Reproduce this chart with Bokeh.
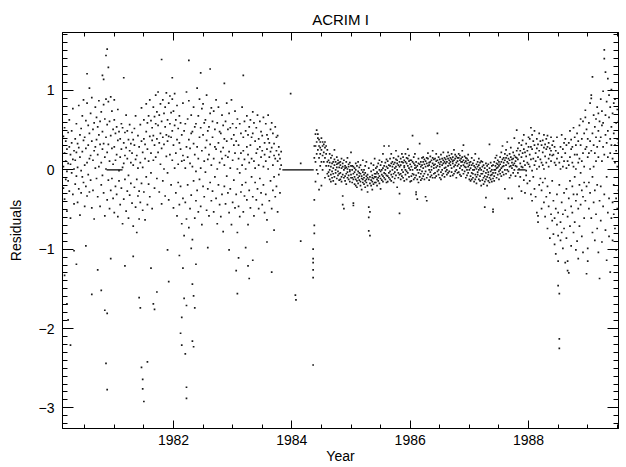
from bokeh.plotting import figure
from bokeh.models import LinearAxis, SingleIntervalTicker, Range1d, ColumnDataSource, CustomJSTickFormatter
from bokeh.embed import file_html
from bokeh.resources import INLINE

# ---------------- data ----------------
early_years = [
    1980.12, 1980.14, 1980.16, 1980.18, 1980.20, 1980.22, 1980.24, 1980.26, 1980.28, 1980.30,
    1980.32, 1980.34, 1980.36, 1980.38, 1980.40, 1980.42, 1980.44, 1980.46, 1980.48, 1980.50,
    1980.52, 1980.54, 1980.56, 1980.58, 1980.60, 1980.62, 1980.64, 1980.66, 1980.68, 1980.70,
    1980.72, 1980.74, 1980.76, 1980.78, 1980.80, 1980.82, 1980.84, 1980.86, 1980.88, 1980.90,
    1980.92, 1980.94, 1980.96, 1980.98, 1981.00, 1981.02, 1981.04, 1981.06, 1981.08, 1981.10,
    1981.12, 1981.14, 1981.16, 1981.18, 1981.20, 1981.22, 1981.24, 1981.26, 1981.28, 1981.30,
    1981.32, 1981.34, 1981.36, 1981.38, 1981.40, 1981.42, 1981.44, 1981.46, 1981.48, 1981.50,
    1981.52, 1981.54, 1981.56, 1981.58, 1981.60, 1981.62, 1981.64, 1981.66, 1981.68, 1981.70,
    1981.72, 1981.74, 1981.76, 1981.78, 1981.80, 1981.82, 1981.84, 1981.86, 1981.88, 1981.90,
    1981.92, 1981.94, 1981.96, 1981.98, 1982.00, 1982.02, 1982.04, 1982.06, 1982.08, 1982.10,
    1982.12, 1982.14, 1982.16, 1982.18, 1982.20, 1982.22, 1982.24, 1982.26, 1982.28, 1982.30,
    1982.32, 1982.34, 1982.36, 1982.38, 1982.40, 1982.42, 1982.44, 1982.46, 1982.48, 1982.50,
    1982.52, 1982.54, 1982.56, 1982.58, 1982.60, 1982.62, 1982.64, 1982.66, 1982.68, 1982.70,
    1982.72, 1982.74, 1982.76, 1982.78, 1982.80, 1982.82, 1982.84, 1982.86, 1982.88, 1982.90,
    1982.92, 1982.94, 1982.96, 1982.98, 1983.00, 1983.02, 1983.04, 1983.06, 1983.08, 1983.10,
    1983.12, 1983.14, 1983.16, 1983.18, 1983.20, 1983.22, 1983.24, 1983.26, 1983.28, 1983.30,
    1983.32, 1983.34, 1983.36, 1983.38, 1983.40, 1983.42, 1983.44, 1983.46, 1983.48, 1983.50,
    1983.52, 1983.54, 1983.56, 1983.58, 1983.60, 1983.62, 1983.64, 1983.66, 1983.68, 1983.70,
    1983.72, 1983.74, 1983.76, 1983.78, 1983.80, 1983.82,
]
early_vals = [
    [0.17, -0.06, 0.31], [0.04, 0.42, -0.23], [0.21, -0.37, 0.53, -1.33], [0.11, -0.12, 0.36], [-0.02, 0.26, -0.52, -1.69], [0.47, -0.14, 0.08, -1.89], [0.29, -0.27, 0.63], [0.07, 0.19, -0.61, -2.21], [0.34, -0.04, 0.49], [-0.31, 0.13, 0.77],
    [0.24, -0.43, 0.01, -1.02], [0.39, 0.12, -0.18], [0.58, -0.08, 0.22, -1.19], [0.03, 0.33, -0.41], [0.28, -0.24, 0.81], [0.16, -0.57, 0.44], [0.52, -0.01, -0.29], [0.23, 0.68, -0.09], [-0.16, 0.37, 0.88], [0.41, 0.06, -0.46],
    [0.62, -0.21, 0.27, -0.96], [0.84, 0.09, -0.33, 1.21], [0.31, 0.56, -0.06], [0.46, -0.28, 0.14, 1.03], [0.71, 0.18, -0.13], [0.36, 0.91, -0.48, -1.57], [0.12, 0.51, -0.26], [0.59, 0.24, -0.62], [0.29, 0.79, 0.02], [-0.11, 0.38, 0.66],
    [0.19, 0.54, -0.34, -1.26], [0.44, 0.04, 0.87], [0.32, -0.46, 0.61], [0.09, 0.73, -0.19, -1.52], [0.48, -0.07, 0.26, 1.19], [0.33, -0.29, 0.82, 1.14], [0.64, 0.16, -0.58, -1.77], [0.41, 0.01, 0.89, 1.44, -2.44], [0.22, -0.38, 0.57, 1.52, -2.77, -1.81], [0.86, -0.13, 0.32, 1.29],
    [0.11, 0.61, -0.49], [0.43, -0.26, 0.92, -1.12], [0.27, 0.74, -0.11], [0.51, 0.07, -0.36], [0.29, 0.63, -0.54, 0.88], [0.12, 0.46, -0.21], [0.54, -0.31, 0.19], [0.37, -0.59, 0.76], [-0.01, 0.48, -0.14], [0.39, 0.16, -0.44],
    [0.26, -0.23, 0.58], [0.53, 0.03, -0.68], [0.08, 0.34, -0.37, 1.16], [-0.12, 0.47, 0.18, -1.21], [0.28, -0.52, 0.69], [0.14, 0.49, -0.27], [0.38, -0.07, -0.61], [0.24, 0.57, -0.32], [-0.17, 0.33, 0.09], [0.47, -0.42, 0.21],
    [0.06, -0.71, 0.38, -1.09], [0.31, -0.22, 0.52], [-0.47, 0.13, 0.68], [0.18, -0.12, -0.79], [0.43, 0.02, -0.33], [-0.27, 0.29, -0.62, -1.61], [0.09, 0.57, -0.41, -1.74], [0.36, -0.17, 0.78, -2.49], [-0.51, 0.22, 0.03, -2.64, -2.76], [0.39, -0.28, 0.63, -2.92],
    [0.14, -0.63, 0.32], [0.48, -0.09, 0.83], [0.26, -0.44, 0.59, -2.42], [0.68, 0.11, -0.18], [0.42, 0.88, -0.34], [0.21, 0.62, -0.04, -1.24], [0.53, 0.37, -0.49], [0.79, 0.12, 0.43, -1.69], [0.31, -0.23, 0.67, -1.76], [0.58, 0.94, 0.16],
    [0.39, -0.11, 0.73, -1.54], [0.22, 0.56, 0.98], [0.69, 0.34, -0.28], [0.46, 0.83, 0.07], [0.61, 0.27, -0.43, 1.39], [0.88, 0.41, -0.14], [0.32, 0.71, 0.01], [0.54, -0.33, 0.79], [0.17, 0.44, 0.97], [0.63, -0.04, 0.36, -1.01],
    [0.42, 0.84, -0.38, -1.41], [0.19, 0.58, 0.93], [0.72, -0.19, 0.41], [0.49, 0.12, 0.89, 1.16], [0.31, 0.74, -0.48], [0.56, 0.02, 0.96], [0.21, 0.63, -0.29], [0.38, -0.58, 0.81], [0.07, 0.52, -0.16], [0.34, -0.44, 0.68, -1.08],
    [-0.21, 0.26, 0.59, -2.06], [0.44, -0.68, 0.11, -1.86, -2.21], [-0.36, 0.18, 0.84, -1.24], [0.12, -0.83, 0.49, -1.62], [0.58, -0.41, 0.02, -2.32], [-0.62, 0.29, 0.98, -1.71, -2.74, -2.88], [0.16, -0.19, 0.64], [-0.73, 0.38, 0.87, 1.38], [0.27, -0.49, 0.08], [-0.32, 0.69, 0.46, -0.99],
    [0.48, -0.88, 0.04, -1.44, -2.16], [-0.14, 0.33, 0.79, -1.59, -2.23], [0.19, -0.61, 0.54, -1.74], [-0.39, 0.58, -0.02, -1.19], [0.29, -0.26, 1.03], [0.68, -0.53, 0.14], [0.41, 0.89, -0.12], [0.02, 0.53, -0.46, 1.22], [0.24, 0.77, -0.69], [0.44, -0.21, 0.83],
    [0.11, 0.59, -0.34], [0.63, -0.03, 0.28], [0.37, 0.94, -0.51], [-0.24, 0.49, 0.13, -0.98], [0.54, 0.19, -0.58], [0.32, 0.71, -0.16, 1.27], [0.78, 0.06, -0.39], [0.41, -0.27, 0.61], [0.14, 0.74, -0.53], [0.51, -0.09, 0.29],
    [0.26, 0.88, -0.36], [0.59, 0.01, -0.68], [0.34, -0.19, 0.79], [0.09, 0.48, -0.44], [0.46, -0.59, 0.23], [0.69, 0.14, -0.31], [0.28, 0.56, -0.78], [0.06, 0.39, -0.21, 1.09], [0.61, -0.43, 0.18], [0.36, 0.84, -0.08],
    [-0.29, 0.51, 0.16], [0.23, -0.54, 0.71, -1.01], [0.53, 0.02, -0.24], [0.39, -0.69, 0.88], [0.12, 0.58, -0.41], [0.44, -0.13, 0.31], [-0.48, 0.21, 0.74], [0.36, -0.31, 0.53, -1.27], [0.01, 0.64, -0.79, -1.56], [0.31, -0.46, 0.14, -1.11],
    [0.58, -0.04, -0.59], [0.21, 0.46, -0.28], [-0.19, 0.79, 0.06], [0.41, -0.53, 0.24, 1.19], [0.13, 0.61, -0.33], [0.49, -0.16, 0.01, -0.98], [-0.38, 0.29, 0.68], [0.19, -0.69, 0.44, -1.21], [0.54, 0.09, -0.26, -1.37], [0.31, -0.48, 0.63],
    [-0.09, 0.41, 0.14], [0.46, -0.34, 0.73, -1.14], [0.11, 0.59, -0.58], [0.36, -0.16, 0.02], [0.53, -0.38, 0.21], [0.26, 0.69, -0.24], [-0.49, 0.39, 0.06], [0.29, 0.61, -0.11], [0.16, -0.29, 0.48], [0.43, 0.24, -0.44],
    [0.04, 0.66, -0.19], [0.34, -0.54, 0.19], [0.58, 0.11, -0.31], [0.26, 0.44, -0.63, -0.91], [0.39, 0.01, 0.69], [0.16, -0.39, 0.34], [0.51, 0.23, -0.14], [0.28, -0.49, 0.59, -1.29], [0.06, 0.46, -0.26], [0.33, -0.09, 0.18, -0.76],
    [0.54, 0.14, -0.34], [0.24, -0.21, 0.41], [0.11, 0.43, -0.53], [0.29, -0.06, 0.19], [0.14, 0.01, -0.29], [0.06, 0.23],
]

gap_years = [1983.98, 1984.06, 1984.07, 1984.15, 1984.15]
gap_vals = [0.96, -1.58, -1.64, 0.08, -0.9]

cluster_years = [1984.36, 1984.38, 1984.40, 1984.42, 1984.44, 1984.46, 1984.48, 1984.50, 1984.52, 1984.54, 1984.56, 1984.58, 1984.60]
cluster_vals = [
    [-1.0, -1.12, -1.17, -1.26, -1.36, -2.46], [0.15, -0.38, -0.7, -0.8, 0.3], [0.45, 0.3, 0.1, -0.15], [0.5, 0.35, 0.2, 0.0],
    [0.4, 0.25, 0.45, -0.05], [0.3, 0.15, 0.38, -0.25], [0.35, 0.2, 0.28, 0.05], [0.25, 0.4, 0.1, -0.2], [0.3, 0.18, 0.35, 0.0],
    [0.22, 0.32, 0.1], [0.28, 0.15, 0.35, -0.1], [0.2, 0.05, 0.3], [0.1, 0.25, -0.05],
]

band_years = [
    1984.62, 1984.64, 1984.66, 1984.68, 1984.70, 1984.72, 1984.74, 1984.76, 1984.78, 1984.80,
    1984.82, 1984.84, 1984.86, 1984.88, 1984.90, 1984.92, 1984.94, 1984.96, 1984.98, 1985.00,
    1985.02, 1985.04, 1985.06, 1985.08, 1985.10, 1985.12, 1985.14, 1985.16, 1985.18, 1985.20,
    1985.22, 1985.24, 1985.26, 1985.28, 1985.30, 1985.32, 1985.34, 1985.36, 1985.38, 1985.40,
    1985.42, 1985.44, 1985.46, 1985.48, 1985.50, 1985.52, 1985.54, 1985.56, 1985.58, 1985.60,
    1985.62, 1985.64, 1985.66, 1985.68, 1985.70, 1985.72, 1985.74, 1985.76, 1985.78, 1985.80,
    1985.82, 1985.84, 1985.86, 1985.88, 1985.90, 1985.92, 1985.94, 1985.96, 1985.98, 1986.00,
    1986.02, 1986.04, 1986.06, 1986.08, 1986.10, 1986.12, 1986.14, 1986.16, 1986.18, 1986.20,
    1986.22, 1986.24, 1986.26, 1986.28, 1986.30, 1986.32, 1986.34, 1986.36, 1986.38, 1986.40,
    1986.42, 1986.44, 1986.46, 1986.48, 1986.50, 1986.52, 1986.54, 1986.56, 1986.58, 1986.60,
    1986.62, 1986.64, 1986.66, 1986.68, 1986.70, 1986.72, 1986.74, 1986.76, 1986.78, 1986.80,
    1986.82, 1986.84, 1986.86, 1986.88, 1986.90, 1986.92, 1986.94, 1986.96, 1986.98, 1987.00,
    1987.02, 1987.04, 1987.06, 1987.08, 1987.10, 1987.12, 1987.14, 1987.16, 1987.18, 1987.20,
    1987.22, 1987.24, 1987.26, 1987.28, 1987.30, 1987.32, 1987.34, 1987.36, 1987.38, 1987.40,
    1987.42, 1987.44, 1987.46, 1987.48, 1987.50, 1987.52, 1987.54, 1987.56, 1987.58, 1987.60,
    1987.62, 1987.64, 1987.66, 1987.68, 1987.70, 1987.72, 1987.74, 1987.76, 1987.78, 1987.80,
]
band_vals = [
    [0.05, -0.03, 0.12, -0.08], [0.0, 0.09, -0.12, 0.2], [0.04, -0.06, 0.15, -0.15], [0.08, -0.02, -0.1, 0.18], [-0.05, 0.1, 0.02, -0.14], [0.06, -0.09, 0.13, 0.25], [0.0, -0.04, 0.1, -0.18], [0.07, -0.11, 0.03, 0.16], [-0.02, 0.08, -0.07, 0.12], [0.03, -0.13, 0.09, -0.05],
    [-0.04, 0.06, -0.12, 0.1], [0.02, -0.09, 0.14, -0.15], [-0.06, 0.04, -0.33, -0.44, 0.08], [0.0, -0.1, -0.49, 0.12], [-0.08, 0.05, -0.14, 0.02], [0.03, -0.05, 0.1, -0.18], [-0.1, 0.01, -0.03, 0.15], [0.04, -0.12, 0.07, -0.07], [-0.02, -0.15, 0.09, 0.0], [-0.06, 0.05, -0.1, 0.22],
    [-0.1, 0.0, -0.16, 0.05], [-0.45, -0.42, -0.05, -0.12, 0.04], [-0.09, -0.18, 0.02, -0.03], [-0.12, 0.0, -0.2, 0.08], [-0.06, -0.14, 0.05, -0.22], [-0.1, -0.02, -0.17, 0.1], [-0.04, -0.13, -0.08, 0.03], [-0.15, -0.05, 0.06, -0.2], [-0.08, -0.11, 0.0, -0.25], [-0.12, -0.03, 0.12, -0.16],
    [-0.1, -0.18, 0.0, -0.06], [-0.14, -0.04, -0.22, 0.05], [-0.08, -0.16, -0.12, 0.1], [-0.2, -0.06, -0.1, -0.28], [-0.47, -0.6, -0.77, -0.12, 0.02], [-0.53, -0.83, -0.09, -0.17], [-0.13, -0.02, -0.2, 0.08], [-0.07, -0.15, -0.1, -0.25], [-0.11, 0.0, -0.18, 0.06], [-0.16, -0.05, -0.09, 0.14],
    [-0.09, -0.16, 0.02, -0.05], [-0.12, 0.04, -0.2, -0.03], [-0.05, -0.14, 0.08, -0.1], [-0.08, 0.0, -0.17, 0.12], [-0.02, -0.11, 0.06, -0.24], [-0.06, 0.1, -0.13, 0.0], [0.02, -0.08, 0.2, -0.15], [-0.04, 0.3, 0.05, -0.1], [0.0, -0.12, 0.09, -0.05], [-0.07, 0.04, -0.16, 0.13],
    [0.02, -0.08, 0.11, -0.15], [0.3, -0.04, 0.06, -0.1], [0.05, -0.12, 0.14, -0.02], [-0.06, 0.08, -0.14, 0.2], [0.0, 0.1, -0.09, 0.04], [0.07, -0.05, 0.15, -0.16], [-0.03, 0.09, -0.11, 0.02], [0.04, -0.07, 0.13, 0.24], [0.08, -0.22, 0.0, 0.12], [-0.04, 0.06, -0.1, 0.17],
    [-0.55, -0.3, 0.04, 0.1, -0.06], [0.06, -0.05, 0.14, -0.12], [0.0, 0.1, -0.08, 0.2], [0.09, -0.03, 0.16, -0.1], [0.03, 0.12, -0.14, 0.05], [0.1, -0.06, 0.2, 0.0], [-0.02, 0.08, -0.12, 0.15], [0.05, 0.14, -0.04, 0.26], [0.11, -0.09, 0.02, 0.18], [0.0, 0.07, -0.15, 0.12],
    [0.04, -0.08, 0.12, -0.14], [0.43, 0.0, -0.05, 0.1], [-0.06, 0.08, -0.12, 0.16], [0.02, -0.1, 0.06, 0.2], [-0.28, -0.31, 0.03, -0.07, 0.1], [-0.37, 0.05, -0.12, 0.0], [0.08, -0.04, 0.14, -0.16], [0.33, 0.0, -0.09, 0.07], [-0.05, 0.1, -0.13, 0.04], [0.06, -0.02, 0.15, -0.11],
    [0.02, 0.1, -0.08, 0.16], [0.07, -0.05, 0.13, -0.12], [-0.34, 0.04, 0.11, -0.02], [-0.39, 0.08, -0.1, 0.15], [0.05, 0.14, -0.06, 0.21], [0.0, 0.09, -0.13, 0.06], [0.1, -0.03, 0.17, -0.09], [0.04, 0.12, -0.07, 0.0], [0.08, -0.1, 0.15, 0.24], [0.02, 0.06, -0.05, 0.13],
    [0.07, -0.04, 0.14, -0.1], [0.03, 0.11, -0.08, 0.2], [0.46, 0.05, -0.02, 0.12], [0.09, -0.06, 0.16, 0.0], [0.04, 0.13, -0.1, 0.07], [0.1, -0.03, 0.19, -0.12], [0.06, 0.0, 0.14, -0.07], [0.12, -0.05, 0.08, 0.22], [0.02, 0.1, -0.09, 0.15], [0.08, -0.02, 0.13, 0.03],
    [0.1, 0.0, 0.17, -0.06], [0.05, 0.14, -0.04, 0.22], [0.12, -0.02, 0.08, 0.18], [0.06, 0.15, -0.08, 0.1], [0.13, 0.02, 0.2, -0.03], [0.08, 0.16, -0.07, 0.11], [0.04, 0.12, 0.25, -0.05], [0.14, 0.06, -0.02, 0.19], [0.09, 0.17, 0.0, -0.1], [0.11, 0.05, 0.15, -0.04],
    [0.07, 0.15, -0.03, 0.2], [0.12, 0.02, 0.18, -0.06], [0.05, 0.14, -0.08, 0.1], [0.1, 0.0, 0.16, 0.24], [0.31, 0.06, -0.05, 0.12], [0.09, 0.17, -0.02, 0.04], [0.03, 0.11, -0.1, 0.15], [0.08, 0.0, 0.14, -0.07], [0.04, 0.12, -0.04, 0.19], [0.0, 0.09, -0.12, 0.06],
    [0.02, -0.08, 0.1, -0.14], [-0.04, 0.06, -0.12, 0.15], [0.0, -0.1, 0.08, -0.05], [0.05, -0.15, 0.12, 0.0], [-0.06, 0.03, -0.12, 0.2], [0.01, -0.09, 0.07, -0.17], [-0.03, 0.1, -0.06, 0.04], [0.06, -0.12, 0.0, 0.14], [-0.08, 0.02, -0.14, 0.09], [0.0, -0.05, 0.11, -0.2],
    [-0.05, 0.04, -0.13, 0.1], [-0.1, -0.02, 0.06, -0.18], [-0.47, -0.08, 0.02, -0.15], [-0.35, -0.04, 0.08, -0.12], [-0.09, 0.0, -0.2, 0.05], [-0.03, -0.14, 0.07, -0.06], [0.32, -0.1, 0.02, -0.16], [-0.02, -0.12, 0.09, -0.07], [-0.06, 0.05, -0.15, 0.0], [-0.53, -0.5, -0.04, 0.06, -0.11],
    [0.0, -0.08, 0.1, -0.14], [0.05, -0.04, 0.15, 0.0], [0.08, -0.1, 0.02, 0.18], [0.03, 0.12, -0.06, 0.07], [-0.02, 0.1, 0.05, -0.12], [0.07, 0.16, -0.05, 0.0], [0.1, 0.02, 0.22, -0.08], [0.04, 0.13, -0.03, 0.3], [0.09, -0.06, 0.15, 0.05], [0.12, 0.0, -0.24, 0.2],
    [0.06, 0.15, -0.05, 0.25], [0.1, 0.0, 0.18, 0.35], [-0.36, 0.08, -0.02, 0.14], [0.12, 0.04, 0.2, -0.1], [0.05, 0.16, -0.07, 0.28], [0.09, -0.36, 0.02, 0.13], [0.14, 0.06, 0.22, -0.04], [0.08, 0.18, 0.0, 0.4], [0.11, -0.08, 0.16, 0.05], [0.15, 0.04, 0.24, 0.5],
]

late_years = [
    1987.82, 1987.84, 1987.86, 1987.88, 1987.90, 1987.92, 1987.94, 1987.96, 1987.98, 1988.00,
    1988.02, 1988.04, 1988.06, 1988.08, 1988.10, 1988.12, 1988.14, 1988.16, 1988.18, 1988.20,
    1988.22, 1988.24, 1988.26, 1988.28, 1988.30, 1988.32, 1988.34, 1988.36, 1988.38, 1988.40,
    1988.42, 1988.44, 1988.46, 1988.48, 1988.50, 1988.52, 1988.54, 1988.56, 1988.58, 1988.60,
    1988.62, 1988.64, 1988.66, 1988.68, 1988.70, 1988.72, 1988.74, 1988.76, 1988.78, 1988.80,
    1988.82, 1988.84, 1988.86, 1988.88, 1988.90, 1988.92, 1988.94, 1988.96, 1988.98, 1989.00,
    1989.02, 1989.04, 1989.06, 1989.08, 1989.10, 1989.12, 1989.14, 1989.16, 1989.18, 1989.20,
    1989.22, 1989.24, 1989.26, 1989.28, 1989.30, 1989.32, 1989.34, 1989.36, 1989.38, 1989.40,
    1989.42, 1989.44, 1989.46, 1989.48, 1989.50, 1989.52,
]
late_vals = [
    [0.13, -0.04, 0.27], [0.01, 0.19, 0.34, -0.21], [0.08, 0.24, -0.09], [0.16, -0.27, 0.04, 0.31], [0.21, 0.03, 0.37], [-0.13, 0.11, 0.26, 0.44], [0.06, 0.22, -0.29], [0.17, -0.01, 0.33, -0.07], [0.24, 0.09, -0.17], [0.07, 0.29, 0.41],
    [0.19, -0.14, 0.39, 0.04], [0.53, 0.13, -0.31, 0.29], [-0.01, 0.26, -0.39, 0.44], [0.14, -0.09, 0.36], [-0.24, 0.06, 0.31, 0.49], [0.11, -0.34, 0.21], [0.27, -0.54, 0.01, 0.39], [-0.58, -0.66, 0.16, 0.32], [0.04, -0.19, 0.24, 0.46], [0.36, -0.11, 0.13],
    [0.31, -0.26, 0.09, -0.49], [0.22, 0.37, -0.16, 0.06], [-0.41, 0.28, 0.44, 0.01], [0.32, -0.59, 0.17, -0.11], [0.26, 0.39, -0.34, 0.09], [0.43, -0.21, 0.29, -0.74], [0.14, -0.46, 0.34, 0.04], [0.27, -0.29, 0.19, -0.86], [0.41, 0.11, -0.56, 0.24], [-0.14, 0.31, -0.64, 0.18],
    [0.19, -0.39, 0.36, -0.81], [-0.61, 0.09, 0.29, -0.94], [0.24, -0.49, -1.06, 0.06], [-0.31, 0.41, -0.69, 0.14], [-0.54, -0.83, -1.15, -1.46, 0.21], [-1.56, -2.13, -2.25, 0.09, -0.19], [0.29, -0.66, 0.01, -0.89], [-0.79, 0.16, -0.41, 0.44], [0.04, -0.99, 0.26, -0.56], [-0.29, 0.34, -0.74, 0.11],
    [-1.17, 0.21, -0.51, 0.39], [0.02, -0.86, 0.31, -0.24], [-1.15, -1.27, 0.11, -0.59], [-1.3, 0.34, -0.36, 0.06], [0.49, -0.71, 0.16, -0.14], [-0.46, 0.26, -0.96, 0.38], [0.09, -0.54, 0.29, -0.21], [0.53, -0.31, 0.04, -0.79], [-0.09, 0.41, -0.66, 0.19], [0.31, -0.39, 0.01, -1.01],
    [-0.9, 0.19, -0.31, 0.46], [-1.12, 0.36, -0.49, 0.09], [0.56, -0.19, 0.14, -0.71], [-0.44, 0.31, -0.04, 0.64], [0.11, -0.84, 0.39, -0.26], [0.61, -0.34, 0.21, -1.04], [-0.16, 0.46, -0.61, 0.04], [0.75, 0.66, -0.39, 0.26], [-1.31, 0.29, -0.21, 0.51], [-1.15, -0.99, 0.16, 0.39],
    [0.21, -0.49, 0.59, -0.16], [0.84, -0.29, 0.36, 0.01], [0.94, 0.9, -0.61, 0.24], [1.17, 0.46, -0.09, -0.79], [0.31, -0.41, 0.69, 0.04], [-0.26, 0.54, -0.89, 0.21], [0.64, 0.11, -0.56, 0.41], [-0.74, 0.29, 0.79, -0.19], [0.49, -1.04, 0.16, 0.71], [-1.37, 0.36, -0.39, 0.61],
    [0.89, -0.21, 0.41, -0.64], [0.56, -0.91, 0.11, 0.74], [0.29, 0.99, -0.46, 0.59], [1.51, 1.4, -0.31, 0.19], [1.23, 0.69, -0.76, 0.44], [0.86, -0.09, -1.14, 0.34], [1.15, 0.49, -0.54, 0.16], [0.66, -0.36, 0.94, -0.84], [0.39, -1.29, 0.21, 0.79], [1.01, -0.61, 0.31, 0.54],
    [0.71, -0.41, 0.14, -0.89], [0.46, -0.19, 0.84, -0.56], [0.31, 0.89, -0.74, 0.09], [0.59, -0.36, 0.24, -1.01], [0.76, 0.04, -0.49, 0.39], [0.34, -0.26, 0.61],
]

# runs of zero-filled days, drawn as flat lines
zero_start = [1980.87, 1983.84, 1987.81]
zero_end = [1981.14, 1984.37, 1987.95]

x_ticks_interval = 2
y_ticks_interval = 1
title_text = "ACRIM I"
x_label = "Year"
y_label = "Residuals"

# ---------------- build ----------------
segments = ((early_years, early_vals), (cluster_years, cluster_vals),
            (band_years, band_vals), (late_years, late_vals))
for yrs, vals in segments:
    assert len(yrs) == len(vals), (len(yrs), len(vals))

xs, ys = [], []
for yrs, vals in segments:
    for t, col in zip(yrs, vals):
        for v in col:
            xs.append(t)
            ys.append(v)
xs += gap_years
ys += gap_vals

FONT = "Liberation Sans"

p = figure(width=626, height=467, output_backend="svg", toolbar_location=None,
           x_range=Range1d(1980.125, 1989.52), y_range=Range1d(-3.26, 1.73),
           min_border_left=62, min_border_right=8, min_border_top=32, min_border_bottom=39,
           title=title_text)
p.background_fill_color = "white"
p.border_fill_color = "white"
p.outline_line_color = "black"
p.outline_line_width = 1
p.grid.visible = False

p.title.align = "center"
p.title.text_font = FONT
p.title.text_font_size = "15px"
p.title.text_font_style = "normal"
p.title.text_color = "black"

xt = SingleIntervalTicker(interval=x_ticks_interval, num_minor_ticks=4)
yt = SingleIntervalTicker(interval=y_ticks_interval, num_minor_ticks=10)

def style_axis(ax, major, minor):
    ax.major_tick_in = major
    ax.major_tick_out = 0
    ax.minor_tick_in = minor
    ax.minor_tick_out = 0
    ax.axis_line_color = "black"
    ax.major_tick_line_color = "black"
    ax.minor_tick_line_color = "black"
    ax.major_label_text_font = FONT
    ax.major_label_text_font_size = "14px"
    ax.major_label_text_color = "black"
    ax.axis_label_text_font = FONT
    ax.axis_label_text_font_size = "14px"
    ax.axis_label_text_font_style = "normal"
    ax.axis_label_text_color = "black"

xa = p.xaxis[0]
xa.ticker = xt
style_axis(xa, 8, 4)
xa.axis_label = x_label
xa.major_label_standoff = 6
xa.axis_label_standoff = 0

ya = p.yaxis[0]
ya.ticker = yt
style_axis(ya, 11, 5)
ya.axis_label = y_label
ya.major_label_standoff = 8
ya.axis_label_standoff = 12

blank = CustomJSTickFormatter(code="return ''")

top = LinearAxis(ticker=xt, formatter=blank)
style_axis(top, 8, 4)
top.major_label_standoff = 0
p.add_layout(top, "above")

right = LinearAxis(ticker=yt, formatter=blank)
style_axis(right, 11, 5)
right.major_label_standoff = 0
p.add_layout(right, "right")

p.segment(x0=zero_start, y0=[0] * len(zero_start), x1=zero_end, y1=[0] * len(zero_end),
          line_color="black", line_width=1.2)

src = ColumnDataSource(dict(x=xs, y=ys))
p.scatter("x", "y", source=src, marker="square", size=1.7,
          fill_color="#1a1a1a", line_color=None)

open("out.html", "w").write(file_html(p, INLINE))
